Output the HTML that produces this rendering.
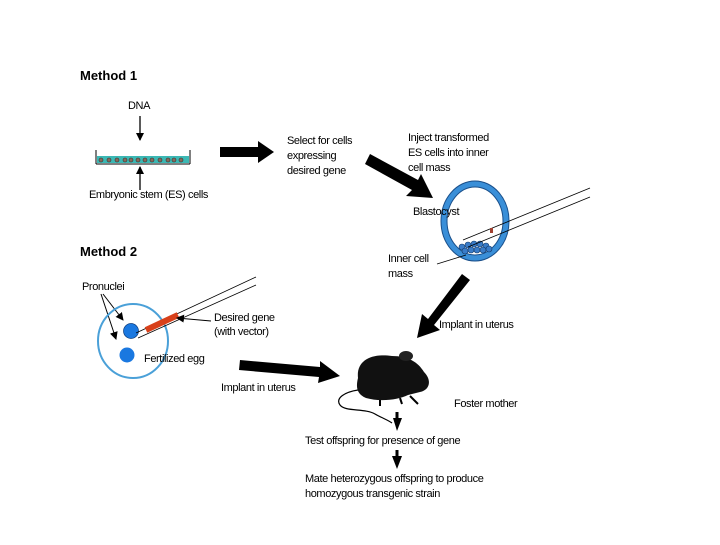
<!DOCTYPE html>
<html><head><meta charset="utf-8"><style>
html,body{margin:0;padding:0;background:#fff;}
svg text{font-family:"Liberation Sans",sans-serif;font-size:11px;fill:#000;letter-spacing:-0.4px}
svg text.h{font-weight:bold;font-size:13px;letter-spacing:0px}
</style></head><body>
<svg width="720" height="540" viewBox="0 0 720 540" xmlns="http://www.w3.org/2000/svg">
<defs>
<marker id="ah" markerWidth="8" markerHeight="8" refX="7" refY="4" orient="auto" markerUnits="userSpaceOnUse"><path d="M0,0 L8,4 L0,8z" fill="#000"/></marker>
</defs>
<text class="h" x="80" y="80">Method 1</text>
<text x="128" y="109">DNA</text>
<line x1="140" y1="116" x2="140" y2="140" stroke="#000" stroke-width="1.3" marker-end="url(#ah)"/>
<rect x="97" y="156" width="92" height="7" fill="#3cb8b4"/>
<line x1="96" y1="150" x2="96" y2="164" stroke="#000"/>
<line x1="190" y1="150" x2="190" y2="164" stroke="#000"/>
<line x1="96" y1="164" x2="190" y2="164" stroke="#000"/>
<g fill="#8a6a5a" stroke="#333" stroke-width="0.6">
<circle cx="101" cy="160" r="2"/><circle cx="109" cy="160" r="2"/><circle cx="117" cy="160" r="2"/><circle cx="125" cy="160" r="2"/><circle cx="131" cy="160" r="2"/><circle cx="138" cy="160" r="2"/><circle cx="145" cy="160" r="2"/><circle cx="152" cy="160" r="2"/><circle cx="160" cy="160" r="2"/><circle cx="168" cy="160" r="2"/><circle cx="174" cy="160" r="2"/><circle cx="181" cy="160" r="2"/>
</g>
<line x1="140" y1="190" x2="140" y2="167" stroke="#000" stroke-width="1.3" marker-end="url(#ah)"/>
<text x="89" y="198">Embryonic stem (ES) cells</text>

<polygon points="220,147 258,147 258,141 274,152 258,163 258,157 220,157" fill="#000"/>
<text x="287" y="144">Select for cells</text>
<text x="287" y="159">expressing</text>
<text x="287" y="174">desired gene</text>
<polygon points="370,154 418,180 421,174 433,198 406,196 412,190 365,164" fill="#000"/>
<text x="408" y="141">Inject transformed</text>
<text x="408" y="156">ES cells into inner</text>
<text x="408" y="171">cell mass</text>

<ellipse cx="475" cy="221" rx="31" ry="37" fill="none" stroke="#1a4f8a" stroke-width="7"/>
<ellipse cx="475" cy="221" rx="31" ry="37" fill="none" stroke="#3a8fd8" stroke-width="5"/>
<g fill="#3a7cc8" stroke="#123a6a" stroke-width="0.6">
<circle cx="462" cy="247" r="3"/><circle cx="468" cy="245" r="3"/><circle cx="474" cy="244" r="3"/><circle cx="480" cy="244" r="3"/><circle cx="486" cy="246" r="3"/><circle cx="465" cy="251" r="3"/><circle cx="471" cy="250" r="3"/><circle cx="477" cy="250" r="3"/><circle cx="483" cy="250" r="3"/><circle cx="489" cy="249" r="3"/>
</g>
<line x1="463" y1="240" x2="590" y2="188" stroke="#000" stroke-width="0.8"/>
<line x1="468" y1="247" x2="590" y2="197" stroke="#000" stroke-width="0.8"/>
<rect x="490" y="228" width="3" height="5" fill="#a04030"/>
<text x="413" y="215">Blastocyst</text>
<text x="388" y="262">Inner cell</text>
<text x="388" y="277">mass</text>
<line x1="437" y1="264" x2="466" y2="255" stroke="#000" stroke-width="0.8"/>
<polygon points="462,274 470,280 434,325 440,330 417,338 422,314 428,319" fill="#000"/>
<text x="439" y="328">Implant in uterus</text>

<text class="h" x="80" y="256">Method 2</text>
<text x="82" y="290">Pronuclei</text>
<line x1="103" y1="294" x2="123" y2="320" stroke="#000" stroke-width="1" marker-end="url(#ah)"/>
<line x1="101" y1="294" x2="116" y2="339" stroke="#000" stroke-width="1" marker-end="url(#ah)"/>
<ellipse cx="133" cy="341" rx="35" ry="37" fill="none" stroke="#4aa0d8" stroke-width="2"/>
<circle cx="131" cy="331" r="7.5" fill="#1a78e0" stroke="#0a3a7a" stroke-width="0.7"/>
<circle cx="127" cy="355" r="7.5" fill="#1a78e0"/>
<line x1="136" y1="333" x2="256" y2="277" stroke="#000" stroke-width="0.8"/>
<line x1="138" y1="338" x2="256" y2="285" stroke="#000" stroke-width="0.8"/>
<line x1="146" y1="330" x2="178" y2="315" stroke="#d8401a" stroke-width="6"/>
<line x1="211" y1="321" x2="177" y2="318" stroke="#000" stroke-width="1" marker-end="url(#ah)"/>
<text x="214" y="321">Desired gene</text>
<text x="214" y="335">(with vector)</text>
<text x="144" y="362">Fertilized egg</text>
<polygon points="240,360 320,367 320,361 340,376 318,383 319,377 239,370" fill="#000"/>
<text x="221" y="391">Implant in uterus</text>

<g>
<path d="M358,378 C356,360 372,353 392,356 C408,356 418,362 424,372 C432,380 430,390 420,392 L408,395 C398,400 380,402 366,398 C356,394 356,386 358,378z" fill="#111"/>
<ellipse cx="406" cy="356" rx="7" ry="5" fill="#222"/>
<path d="M380,400 L380,406 M400,398 L402,404 M410,396 L418,404" stroke="#000" stroke-width="2" fill="none"/>
<path d="M358,390 C345,392 335,398 340,405 C345,412 365,408 375,414 C382,418 388,420 392,423" stroke="#000" stroke-width="1.2" fill="none"/>
</g>
<text x="454" y="407">Foster mother</text>
<polygon points="393,418 402,418 397,431" fill="#000"/>
<line x1="397" y1="412" x2="397" y2="420" stroke="#000" stroke-width="3"/>
<text x="305" y="444">Test offspring for presence of gene</text>
<line x1="397" y1="450" x2="397" y2="458" stroke="#000" stroke-width="3"/>
<polygon points="392,456 402,456 397,469" fill="#000"/>
<text x="305" y="482">Mate heterozygous offspring to produce</text>
<text x="305" y="497">homozygous transgenic strain</text>
</svg>
</body></html>
